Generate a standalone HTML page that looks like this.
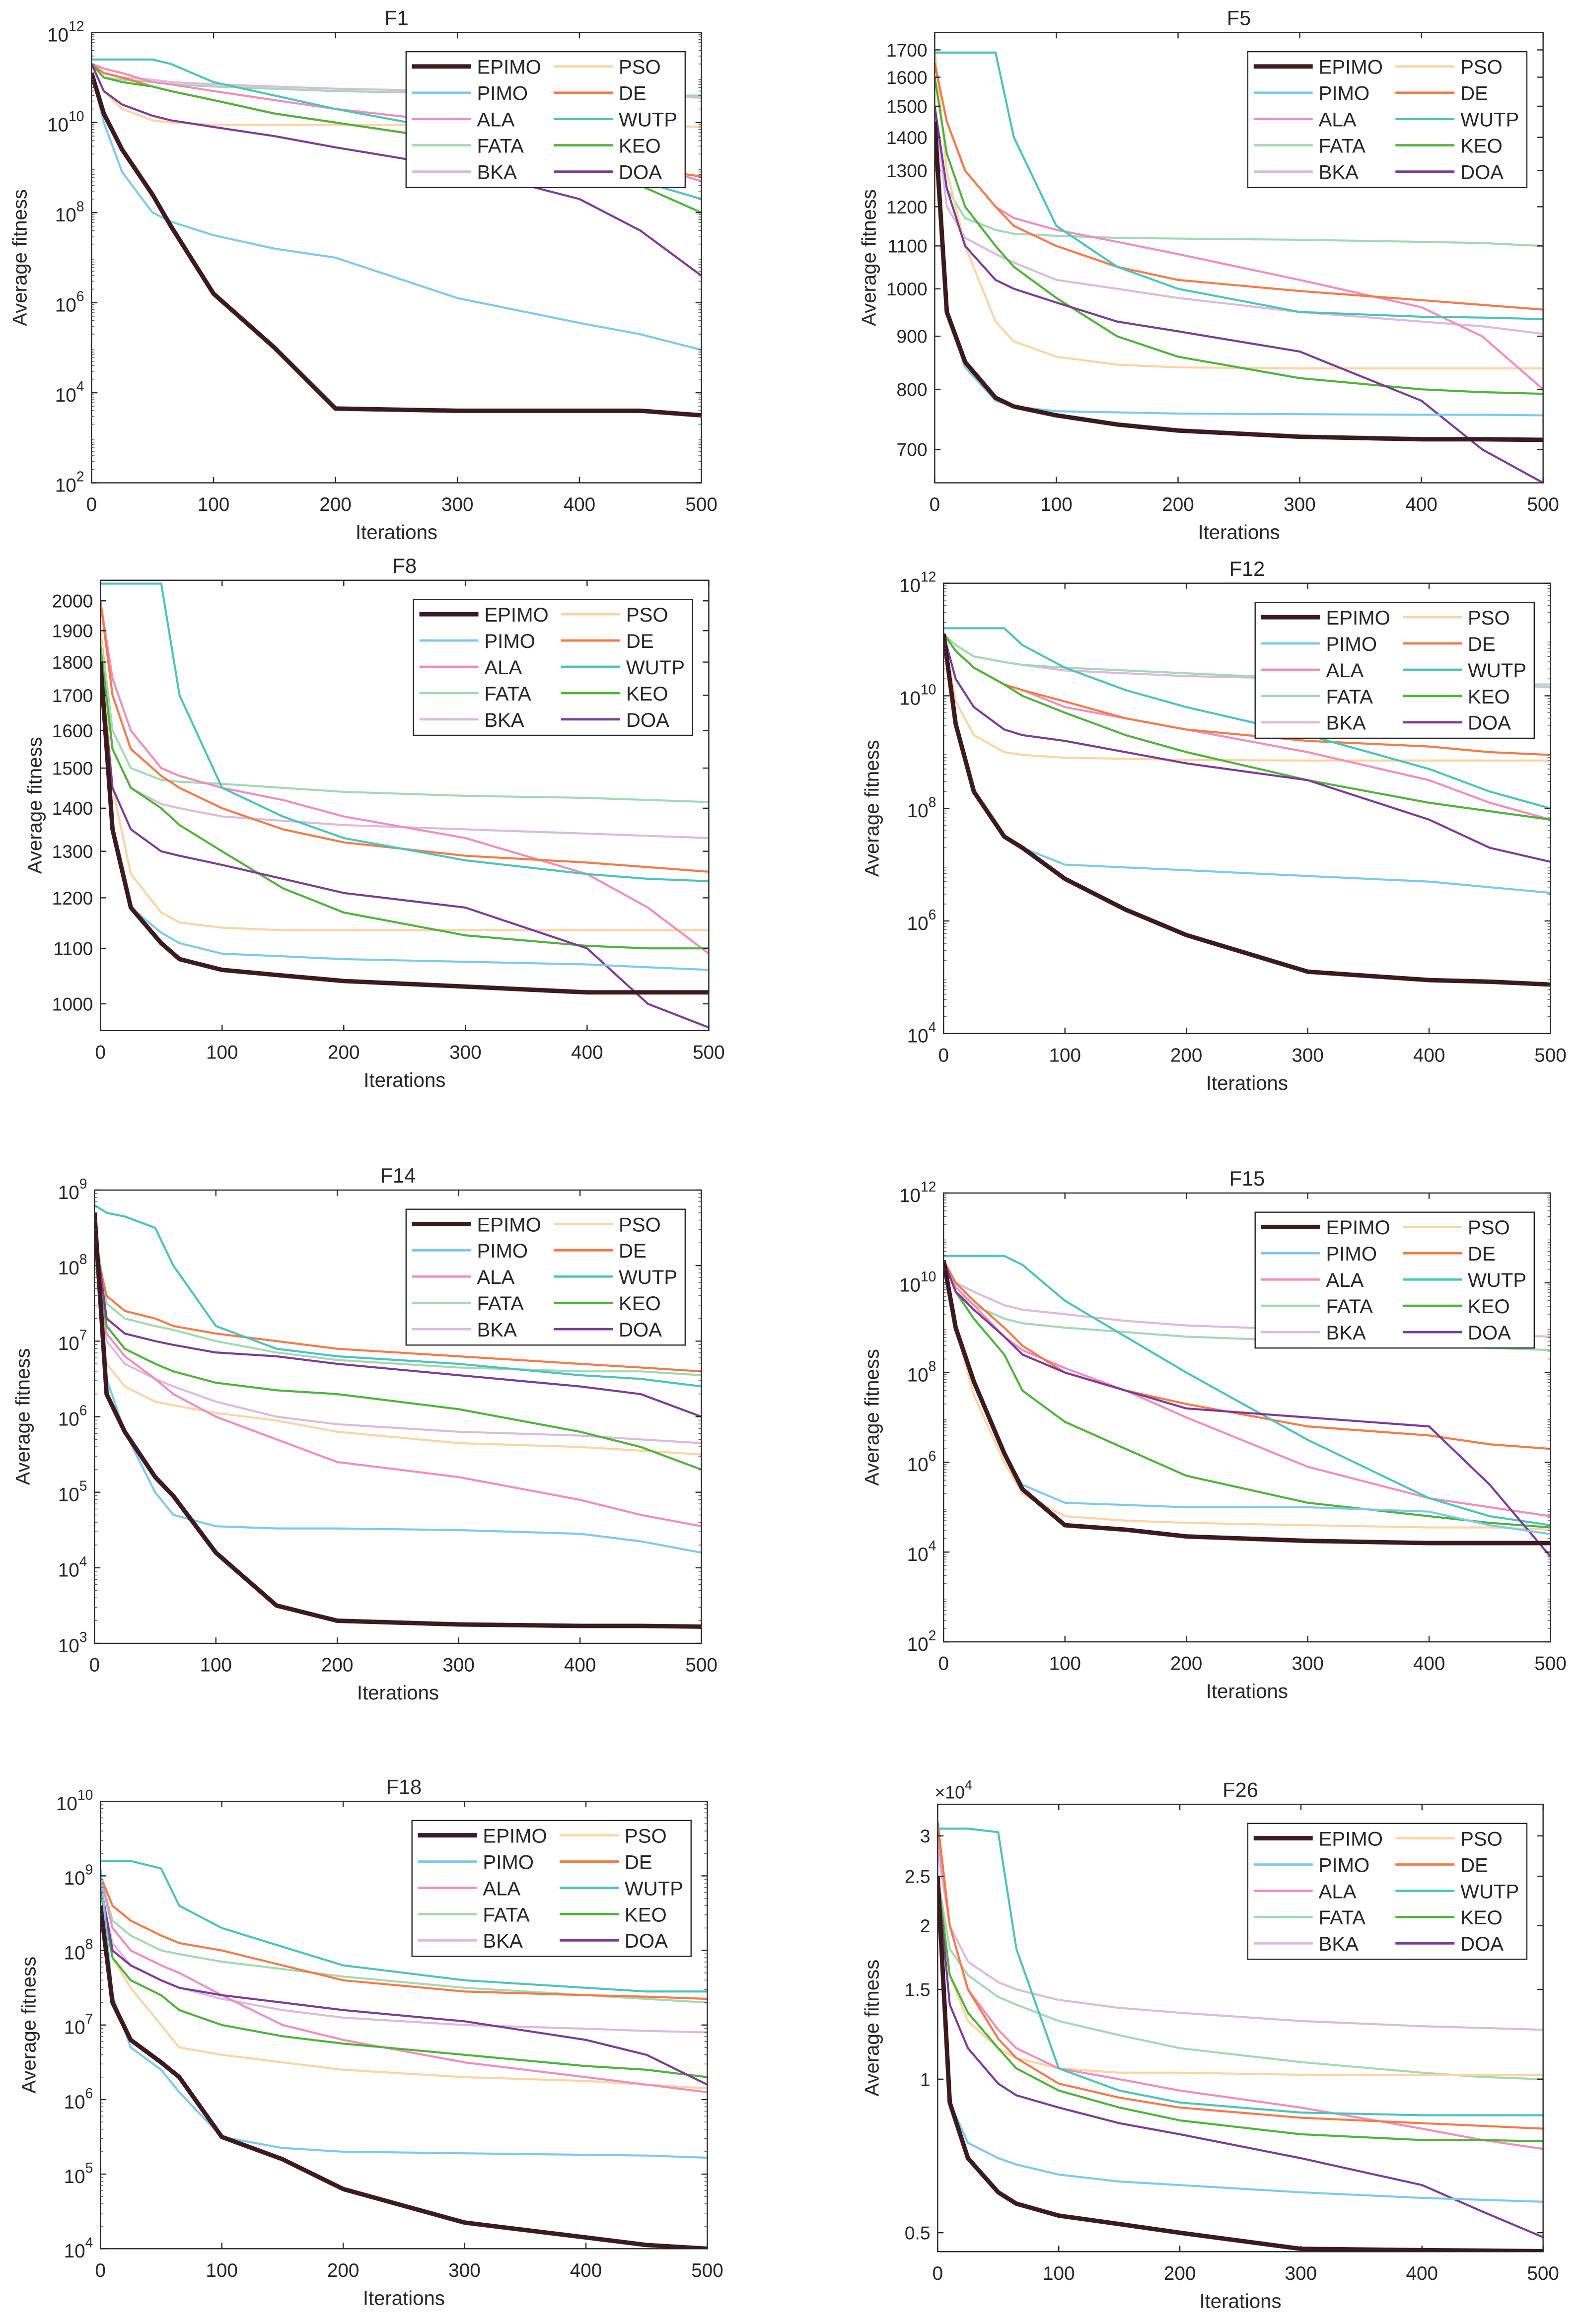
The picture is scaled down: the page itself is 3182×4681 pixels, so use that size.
<!DOCTYPE html>
<html><head><meta charset="utf-8"><style>
html,body{margin:0;padding:0;background:#fff}
svg{display:block}
text{font-family:"Liberation Sans",Arial,sans-serif;fill:#262626}
</style></head><body>
<svg id="chart" width="3182" height="4681" viewBox="0 0 1070 1574" preserveAspectRatio="none" xmlns="http://www.w3.org/2000/svg"></svg>
<script>
const iterations = [0,10,25,50,65,100,150,200,300,400,450,500];
const algorithms = ["EPIMO","PIMO","ALA","FATA","BKA","PSO","DE","WUTP","KEO","DOA"];
const colors = {EPIMO:"#3d1a20",PIMO:"#7dc9ee",ALA:"#f28cbd",FATA:"#a3d9b1",BKA:"#dcb9e0",PSO:"#fdd3a2",DE:"#f47a48",WUTP:"#4cc3bd",KEO:"#4fb33a",DOA:"#7d3a98"};
/* F1: log10 values */
const f1_EPIMO=[11.1,10.2,9.4,8.4,7.7,6.2,5.0,3.65,3.6,3.6,3.6,3.5];
const f1_PIMO=[11.1,10.0,8.9,8.0,7.8,7.5,7.2,7.0,6.1,5.55,5.3,4.95];
const f1_ALA=[11.3,11.2,11.1,10.9,10.85,10.7,10.5,10.3,10.0,9.5,9.1,8.7];
const f1_FATA=[11.3,11.0,10.95,10.9,10.85,10.8,10.75,10.7,10.65,10.6,10.6,10.6];
const f1_BKA=[11.3,11.1,11.0,10.95,10.9,10.85,10.8,10.75,10.7,10.65,10.6,10.55];
const f1_PSO=[11.3,10.7,10.3,10.05,10.0,9.95,9.95,9.95,9.95,9.95,9.95,9.9];
const f1_DE=[11.3,11.1,11.0,10.8,10.7,10.5,10.2,10.0,9.6,9.2,9.0,8.8];
const f1_WUTP=[11.4,11.4,11.4,11.4,11.3,10.9,10.6,10.3,9.8,9.1,8.7,8.3];
const f1_KEO=[11.3,11.0,10.9,10.8,10.7,10.5,10.2,10.0,9.6,9.0,8.6,8.0];
const f1_DOA=[11.3,10.7,10.4,10.15,10.05,9.9,9.7,9.45,9.0,8.3,7.6,6.6];
/* F5: raw values */
const f5_EPIMO=[1450,950,850,785,770,755,740,730,720,716,716,715];
const f5_PIMO=[1450,950,840,780,770,762,760,758,757,756,756,755];
const f5_ALA=[1650,1450,1300,1200,1170,1140,1110,1080,1020,960,900,800];
const f5_FATA=[1500,1250,1170,1140,1130,1125,1120,1118,1115,1110,1107,1100];
const f5_BKA=[1500,1200,1120,1080,1060,1020,1000,980,950,930,920,905];
const f5_PSO=[1700,1300,1100,930,890,860,845,840,838,838,838,838];
const f5_DE=[1650,1450,1300,1200,1150,1100,1050,1020,995,975,965,955];
const f5_WUTP=[1690,1690,1690,1690,1400,1150,1050,1000,950,940,938,935];
const f5_KEO=[1600,1350,1200,1100,1050,980,900,860,820,800,795,792];
const f5_DOA=[1500,1250,1100,1020,1000,970,930,910,870,780,700,650];
/* F8: raw values */
const f8_EPIMO=[1800,1350,1180,1110,1080,1060,1050,1040,1030,1020,1020,1020];
const f8_PIMO=[1800,1350,1180,1130,1110,1090,1085,1080,1075,1070,1065,1060];
const f8_ALA=[2000,1750,1600,1500,1480,1450,1420,1380,1330,1250,1180,1090];
const f8_FATA=[1900,1600,1500,1470,1465,1460,1450,1440,1430,1425,1420,1415];
const f8_BKA=[1900,1550,1450,1410,1400,1380,1370,1360,1350,1340,1335,1330];
const f8_PSO=[1900,1450,1250,1170,1150,1140,1135,1135,1135,1135,1135,1135];
const f8_DE=[2000,1700,1550,1480,1450,1400,1350,1320,1290,1275,1265,1255];
const f8_WUTP=[2060,2060,2060,2060,1700,1450,1380,1330,1280,1250,1240,1235];
const f8_KEO=[1850,1550,1450,1400,1360,1300,1220,1170,1125,1105,1100,1100];
const f8_DOA=[1800,1450,1350,1300,1290,1270,1240,1210,1180,1100,1000,960];
/* F12: log10 values */
const f12_EPIMO=[11.1,9.5,8.3,7.5,7.3,6.75,6.2,5.75,5.1,4.95,4.92,4.87];
const f12_PIMO=[11.1,9.5,8.3,7.5,7.3,7.0,6.95,6.9,6.8,6.7,6.6,6.5];
const f12_ALA=[11.1,10.8,10.5,10.2,10.1,9.8,9.6,9.4,9.0,8.5,8.1,7.8];
const f12_FATA=[11.1,10.9,10.7,10.6,10.55,10.5,10.45,10.4,10.3,10.25,10.2,10.2];
const f12_BKA=[11.1,10.9,10.7,10.6,10.55,10.45,10.4,10.35,10.3,10.25,10.2,10.15];
const f12_PSO=[11.1,9.9,9.3,9.0,8.95,8.9,8.88,8.86,8.85,8.85,8.85,8.85];
const f12_DE=[11.1,10.8,10.5,10.2,10.1,9.9,9.6,9.4,9.2,9.1,9.0,8.95];
const f12_WUTP=[11.2,11.2,11.2,11.2,10.9,10.5,10.1,9.8,9.3,8.7,8.3,8.0];
const f12_KEO=[11.1,10.8,10.5,10.2,10.0,9.7,9.3,9.0,8.5,8.1,7.95,7.8];
const f12_DOA=[11.1,10.3,9.8,9.4,9.3,9.2,9.0,8.8,8.5,7.8,7.3,7.05];
/* F14: log10 values */
const f14_EPIMO=[8.7,6.3,5.8,5.2,4.95,4.2,3.5,3.3,3.25,3.23,3.23,3.22];
const f14_PIMO=[8.7,6.5,5.8,5.0,4.7,4.55,4.52,4.52,4.5,4.45,4.35,4.2];
const f14_ALA=[8.3,7.1,6.8,6.5,6.3,6.0,5.7,5.4,5.2,4.9,4.7,4.55];
const f14_FATA=[8.5,7.5,7.3,7.2,7.15,7.0,6.85,6.75,6.65,6.6,6.6,6.55];
const f14_BKA=[8.2,7.0,6.7,6.5,6.4,6.2,6.0,5.9,5.8,5.75,5.7,5.65];
const f14_PSO=[8.2,6.7,6.4,6.2,6.15,6.05,5.95,5.8,5.65,5.6,5.55,5.5];
const f14_DE=[8.3,7.6,7.4,7.3,7.2,7.1,7.0,6.9,6.8,6.7,6.65,6.6];
const f14_WUTP=[8.8,8.7,8.65,8.5,8.0,7.2,6.9,6.8,6.7,6.55,6.5,6.4];
const f14_KEO=[8.3,7.2,6.9,6.7,6.6,6.45,6.35,6.3,6.1,5.8,5.6,5.3];
const f14_DOA=[8.5,7.3,7.1,7.0,6.95,6.85,6.8,6.7,6.55,6.4,6.3,6.0];
/* F15: log10 values */
const f15_EPIMO=[10.5,9.0,7.8,6.2,5.4,4.6,4.5,4.35,4.25,4.2,4.2,4.2];
const f15_PIMO=[10.5,9.0,7.8,6.2,5.5,5.1,5.05,5.0,5.0,4.9,4.6,4.4];
const f15_ALA=[10.5,9.9,9.5,8.8,8.5,8.1,7.6,7.0,5.9,5.2,5.0,4.8];
const f15_FATA=[10.5,9.8,9.5,9.2,9.1,9.0,8.9,8.8,8.7,8.6,8.55,8.5];
const f15_BKA=[10.5,10.0,9.8,9.5,9.4,9.3,9.15,9.05,8.95,8.9,8.85,8.8];
const f15_PSO=[10.5,9.0,7.5,6.0,5.3,4.8,4.7,4.65,4.6,4.55,4.55,4.5];
const f15_DE=[10.5,10.0,9.6,9.0,8.6,8.0,7.6,7.3,6.8,6.6,6.4,6.3];
const f15_WUTP=[10.6,10.6,10.6,10.6,10.4,9.6,8.8,8.0,6.5,5.2,4.8,4.6];
const f15_KEO=[10.5,9.8,9.2,8.4,7.6,6.9,6.3,5.7,5.1,4.8,4.65,4.55];
const f15_DOA=[10.5,9.8,9.4,8.8,8.4,8.0,7.6,7.2,7.0,6.8,5.5,3.9];
/* F18: log10 values */
const f18_EPIMO=[8.6,7.3,6.8,6.5,6.3,5.5,5.2,4.8,4.35,4.15,4.05,4.0];
const f18_PIMO=[9.1,7.4,6.7,6.4,6.1,5.5,5.35,5.3,5.28,5.26,5.25,5.22];
const f18_ALA=[9.0,8.3,8.0,7.8,7.7,7.4,7.0,6.8,6.5,6.3,6.2,6.1];
const f18_FATA=[9.0,8.4,8.2,8.0,7.95,7.85,7.75,7.65,7.5,7.4,7.35,7.3];
const f18_BKA=[8.8,8.1,7.8,7.6,7.5,7.35,7.2,7.1,7.0,6.95,6.92,6.9];
const f18_PSO=[8.8,7.9,7.5,7.0,6.7,6.6,6.5,6.4,6.3,6.25,6.2,6.15];
const f18_DE=[9.0,8.6,8.4,8.2,8.1,8.0,7.8,7.6,7.45,7.4,7.38,7.35];
const f18_WUTP=[9.2,9.2,9.2,9.1,8.6,8.3,8.05,7.8,7.6,7.5,7.45,7.45];
const f18_KEO=[8.8,7.9,7.6,7.4,7.2,7.0,6.85,6.75,6.6,6.45,6.4,6.3];
const f18_DOA=[8.9,8.0,7.8,7.6,7.5,7.4,7.3,7.2,7.05,6.8,6.6,6.2];
/* F26: raw values (x1e4) */
const f26_EPIMO=[2.5,0.9,0.7,0.6,0.57,0.54,0.52,0.5,0.465,0.462,0.461,0.46];
const f26_PIMO=[2.5,0.9,0.75,0.7,0.68,0.65,0.63,0.62,0.6,0.585,0.58,0.575];
const f26_ALA=[3.0,2.0,1.5,1.25,1.15,1.05,1.0,0.95,0.88,0.8,0.76,0.73];
const f26_FATA=[2.5,1.8,1.6,1.45,1.4,1.3,1.22,1.15,1.08,1.03,1.01,1.0];
const f26_BKA=[2.8,2.0,1.7,1.55,1.5,1.43,1.38,1.35,1.3,1.27,1.26,1.25];
const f26_PSO=[2.5,1.6,1.3,1.15,1.1,1.05,1.03,1.03,1.02,1.02,1.02,1.02];
const f26_DE=[3.2,2.0,1.5,1.2,1.1,0.98,0.92,0.88,0.84,0.82,0.81,0.8];
const f26_WUTP=[3.1,3.1,3.1,3.05,1.8,1.05,0.95,0.9,0.86,0.85,0.85,0.85];
const f26_KEO=[2.5,1.6,1.35,1.15,1.05,0.95,0.88,0.83,0.78,0.76,0.76,0.755];
const f26_DOA=[2.5,1.4,1.15,0.98,0.93,0.88,0.82,0.78,0.7,0.62,0.55,0.49];
const xTicks=[0,100,200,300,400,500];
const f5Ticks=[700,800,900,1000,1100,1200,1300,1400,1500,1600,1700];
const f8Ticks=[1000,1100,1200,1300,1400,1500,1600,1700,1800,1900,2000];
const f26Ticks=[0.5,1,1.5,2,2.5,3];

const S={
 F1:{EPIMO:f1_EPIMO,PIMO:f1_PIMO,ALA:f1_ALA,FATA:f1_FATA,BKA:f1_BKA,PSO:f1_PSO,DE:f1_DE,WUTP:f1_WUTP,KEO:f1_KEO,DOA:f1_DOA},
 F5:{EPIMO:f5_EPIMO,PIMO:f5_PIMO,ALA:f5_ALA,FATA:f5_FATA,BKA:f5_BKA,PSO:f5_PSO,DE:f5_DE,WUTP:f5_WUTP,KEO:f5_KEO,DOA:f5_DOA},
 F8:{EPIMO:f8_EPIMO,PIMO:f8_PIMO,ALA:f8_ALA,FATA:f8_FATA,BKA:f8_BKA,PSO:f8_PSO,DE:f8_DE,WUTP:f8_WUTP,KEO:f8_KEO,DOA:f8_DOA},
 F12:{EPIMO:f12_EPIMO,PIMO:f12_PIMO,ALA:f12_ALA,FATA:f12_FATA,BKA:f12_BKA,PSO:f12_PSO,DE:f12_DE,WUTP:f12_WUTP,KEO:f12_KEO,DOA:f12_DOA},
 F14:{EPIMO:f14_EPIMO,PIMO:f14_PIMO,ALA:f14_ALA,FATA:f14_FATA,BKA:f14_BKA,PSO:f14_PSO,DE:f14_DE,WUTP:f14_WUTP,KEO:f14_KEO,DOA:f14_DOA},
 F15:{EPIMO:f15_EPIMO,PIMO:f15_PIMO,ALA:f15_ALA,FATA:f15_FATA,BKA:f15_BKA,PSO:f15_PSO,DE:f15_DE,WUTP:f15_WUTP,KEO:f15_KEO,DOA:f15_DOA},
 F18:{EPIMO:f18_EPIMO,PIMO:f18_PIMO,ALA:f18_ALA,FATA:f18_FATA,BKA:f18_BKA,PSO:f18_PSO,DE:f18_DE,WUTP:f18_WUTP,KEO:f18_KEO,DOA:f18_DOA},
 F26:{EPIMO:f26_EPIMO,PIMO:f26_PIMO,ALA:f26_ALA,FATA:f26_FATA,BKA:f26_BKA,PSO:f26_PSO,DE:f26_DE,WUTP:f26_WUTP,KEO:f26_KEO,DOA:f26_DOA}
};
const panels=[
 {id:"F1",L:62,T:22,R:475,B:327,kind:"exp",lo:2,hi:12,ticks:[2,4,6,8,10,12]},
 {id:"F5",L:633,T:22,R:1045,B:327,kind:"val",lo:650,hi:1767,ticks:f5Ticks},
 {id:"F8",L:68,T:393,R:480,B:698,kind:"val",lo:955,hi:2072,ticks:f8Ticks},
 {id:"F12",L:639,T:395,R:1050,B:700,kind:"exp",lo:4,hi:12,ticks:[4,6,8,10,12]},
 {id:"F14",L:64,T:806,R:475,B:1113,kind:"exp",lo:3,hi:9,ticks:[3,4,5,6,7,8,9]},
 {id:"F15",L:639,T:808,R:1050,B:1112,kind:"exp",lo:2,hi:12,ticks:[2,4,6,8,10,12]},
 {id:"F18",L:68,T:1220,R:479,B:1523,kind:"exp",lo:4,hi:10,ticks:[4,5,6,7,8,9,10]},
 {id:"F26",L:635,T:1222,R:1045,B:1525,kind:"val",lo:0.459,hi:3.46,ticks:f26Ticks,mult:true}
];
const NS="http://www.w3.org/2000/svg";
const svg=document.getElementById("chart");
function mk(tag,attrs,parent,txt){const e=document.createElementNS(NS,tag);for(const k in attrs)e.setAttribute(k,attrs[k]);if(txt!==undefined)e.textContent=txt;parent.appendChild(e);return e;}
panels.forEach(p=>{
 const g=mk("g",{},svg);
 
 
 const W=p.R-p.L,H=p.B-p.T;
 const xs=v=>p.L+v/500*W;
 const toL=v=>p.kind==="exp"?v:Math.log10(v);
 const lo=toL(p.lo),hi=toL(p.hi);
 const ys=v=>p.B-(toL(v)-lo)/(hi-lo)*H;
 mk("rect",{x:p.L,y:p.T,width:W,height:H,fill:"#fff"},g);
 const clipId="clip"+p.id;
 const cp=mk("clipPath",{id:clipId},g);mk("rect",{x:p.L,y:p.T,width:W,height:H},cp);
 const lines=mk("g",{"clip-path":"url(#"+clipId+")"},g);
 const order=["BKA","FATA","PSO","ALA","DE","WUTP","KEO","DOA","PIMO","EPIMO"];
 order.forEach(a=>{
  const d=S[p.id][a].map((v,i)=>(i?"L":"M")+xs(iterations[i]).toFixed(1)+","+ys(v).toFixed(1)).join(" ");
  const pl=mk("path",{d:d,fill:"none",stroke:colors[a],"stroke-width":a==="EPIMO"?3:1.4,"stroke-linejoin":"round"},lines);
  
  
 });
 mk("rect",{x:p.L,y:p.T,width:W,height:H,fill:"none",stroke:"#262626","stroke-width":0.8},g);
 xTicks.forEach(t=>{
  const x=xs(t);
  mk("line",{x1:x,y1:p.B,x2:x,y2:p.B-4,stroke:"#262626","stroke-width":0.8},g);
  mk("line",{x1:x,y1:p.T,x2:x,y2:p.T+4,stroke:"#262626","stroke-width":0.8},g);
  const tl=mk("text",{x:x,y:p.B+19,"text-anchor":"middle","font-size":13},g,String(t));
  
  
 });
 p.ticks.forEach(t=>{
  const y=ys(t);
  mk("line",{x1:p.L,y1:y,x2:p.L+4,y2:y,stroke:"#262626","stroke-width":0.8},g);
  mk("line",{x1:p.R,y1:y,x2:p.R-4,y2:y,stroke:"#262626","stroke-width":0.8},g);
  let tl;
  if(p.kind==="exp"){
   tl=mk("text",{x:p.L-5,y:y+6,"text-anchor":"end","font-size":13},g);
   mk("tspan",{},tl,"10");mk("tspan",{dy:-7,"font-size":9.5},tl,String(t));
  } else {
   tl=mk("text",{x:p.L-5,y:y+4.5,"text-anchor":"end","font-size":12.5},g,String(t));
  }
  
  
 });
 if(p.kind==="exp"){
  for(let d=p.lo;d<p.hi;d++)for(let m=2;m<10;m++){const y=ys(d+Math.log10(m));
   mk("line",{x1:p.L,y1:y,x2:p.L+2,y2:y,stroke:"#555","stroke-width":0.5},g);
   mk("line",{x1:p.R,y1:y,x2:p.R-2,y2:y,stroke:"#555","stroke-width":0.5},g);}
 }
 if(p.mult){const m=mk("text",{x:p.L-2,y:p.T-4,"font-size":12},g);mk("tspan",{},m,"×10");mk("tspan",{dy:-6,"font-size":9},m,"4");
  }
 const ti=mk("text",{x:(p.L+p.R)/2,y:p.T-5,"text-anchor":"middle","font-size":14},g,p.id);
 
 const xl=mk("text",{x:(p.L+p.R)/2,y:p.B+38,"text-anchor":"middle","font-size":13.5},g,"Iterations");
 
 const yx=p.L-(p.kind==="exp"?44:40),yy=(p.T+p.B)/2;
 const yl=mk("text",{x:yx,y:yy,"text-anchor":"middle","font-size":13.5,transform:"rotate(-90 "+yx+" "+yy+")"},g,"Average fitness");
 
 const lw=189,lh=92,lx=p.R-11-lw,ly=p.T+13;
 const lg=mk("g",{},g);
 
 mk("rect",{x:lx,y:ly,width:lw,height:lh,fill:"#fff",stroke:"#262626","stroke-width":0.8},lg);
 algorithms.forEach((a,i)=>{
  const col=i<5?0:1,row=i%5;
  const x0=lx+(col?100:4),y0=ly+10+row*17.8;
  const e=mk("g",{},lg);
  
  
  mk("line",{x1:x0,y1:y0,x2:x0+40,y2:y0,stroke:colors[a],"stroke-width":a==="EPIMO"?3:1.6},e);
  mk("text",{x:x0+44,y:y0+5,"font-size":13.5,fill:"#000"},e,a);
 });
});
</script>
</body></html>
